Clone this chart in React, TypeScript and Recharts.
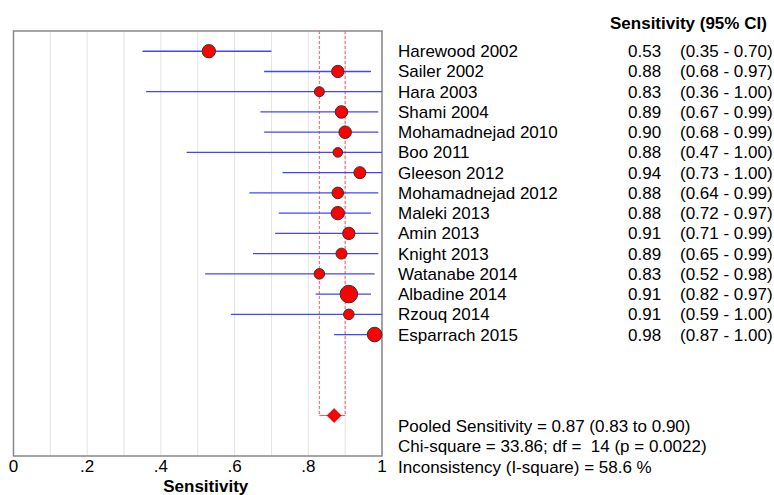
import { ComposedChart, Scatter, XAxis, YAxis, CartesianGrid, ReferenceLine, ReferenceArea } from "recharts";

const studies = [
  "Harewood 2002", "Sailer 2002", "Hara 2003", "Shami 2004", "Mohamadnejad 2010",
  "Boo 2011", "Gleeson 2012", "Mohamadnejad 2012", "Maleki 2013", "Amin 2013",
  "Knight 2013", "Watanabe 2014", "Albadine 2014", "Rzouq 2014", "Esparrach 2015",
];
const sensitivity = [0.53, 0.88, 0.83, 0.89, 0.9, 0.88, 0.94, 0.88, 0.88, 0.91, 0.89, 0.83, 0.91, 0.91, 0.98];
const ciLow = [0.35, 0.68, 0.36, 0.67, 0.68, 0.47, 0.73, 0.64, 0.72, 0.71, 0.65, 0.52, 0.82, 0.59, 0.87];
const ciHigh = [0.7, 0.97, 1.0, 0.99, 0.99, 1.0, 1.0, 0.99, 0.97, 0.99, 0.99, 0.98, 0.97, 1.0, 1.0];
// relative study weights (%), used for marker area
const weights = [7.7, 6.6, 4.3, 6.8, 6.8, 4.0, 6.2, 5.8, 7.7, 6.6, 5.2, 4.8, 13.3, 4.8, 9.2];

const pooled = 0.87;
const pooledLow = 0.83;
const pooledHigh = 0.9;
const pooledRow = 18;

const xTicks = [0, 0.1, 0.2, 0.3, 0.4, 0.5, 0.6, 0.7, 0.8, 0.9, 1];
const xTickLabels = ["0", "", ".2", "", ".4", "", ".6", "", ".8", "", "1"];

const stats = [
  "Pooled Sensitivity = 0.87 (0.83 to 0.90)",
  "Chi-square = 33.86; df =  14 (p = 0.0022)",
  "Inconsistency (I-square) = 58.6 %",
];

const rows = studies.map((name, i) => ({
  name,
  x: sensitivity[i],
  y: i,
  lo: ciLow[i],
  hi: ciHigh[i],
  w: weights[i],
}));
const pooledData = [{ x: pooled, y: pooledRow }];

const font = "'Liberation Sans', Arial, sans-serif";
const fmt = (v: number) => v.toFixed(2);

function StudyDot(props: any) {
  const { cx, cy, payload } = props;
  const r = Math.sqrt(payload.w * 5.8);
  return <circle cx={cx} cy={cy} r={r} fill="#ff0000" stroke="#333" strokeWidth={1} />;
}

function Diamond(props: any) {
  const { cx, cy } = props;
  return (
    <polygon
      points={`${cx - 7},${cy} ${cx},${cy - 7} ${cx + 7},${cy} ${cx},${cy + 7}`}
      fill="#ff0000"
      stroke="#aa0000"
      strokeWidth={0.6}
    />
  );
}

function StudyTick(props: any) {
  const { y, payload } = props;
  const i = payload.value;
  if (i < 0 || i >= studies.length) return null;
  return (
    <g fontFamily={font} fontSize={17} fill="#000">
      <text x={398} y={y} dy={6} textAnchor="start">{studies[i]}</text>
      <text x={628} y={y} dy={6} textAnchor="start">{fmt(sensitivity[i])}</text>
      <text x={680} y={y} dy={6} textAnchor="start">{`(${fmt(ciLow[i])} - ${fmt(ciHigh[i])})`}</text>
    </g>
  );
}

export default function App() {
  return (
    <div style={{ position: "absolute", left: 0, top: 0, width: 774, height: 495, background: "#fff" }}>
      <ComposedChart
        width={774}
        height={495}
        margin={{ top: 31, right: 0, bottom: 0, left: 13.5 }}
      >
        <CartesianGrid horizontal={false} stroke="#e4e4e4" />
        <XAxis
          type="number"
          dataKey="x"
          domain={[0, 1]}
          ticks={xTicks}
          tickFormatter={(_v: number, i: number) => xTickLabels[i]}
          height={39}
          axisLine={false}
          tickLine={false}
          tickSize={0}
          tick={{ fontFamily: font, fontSize: 17, fill: "#000" }}
          tickMargin={4}
          label={{
            value: "Sensitivity",
            position: "insideBottom",
            offset: 3,
            dx: 8,
            style: { fontFamily: font, fontSize: 17, fontWeight: 700, fill: "#000" },
          }}
        />
        <YAxis
          type="number"
          dataKey="y"
          orientation="right"
          domain={[-1, 20]}
          reversed
          width={392}
          ticks={rows.map((r) => r.y)}
          axisLine={false}
          tickLine={false}
          tick={<StudyTick />}
          interval={0}
        />
        <ReferenceArea x1={0} x2={1} y1={-1} y2={20} fill="none" stroke="#888" strokeWidth={1.5} />
        <ReferenceLine
          segment={[{ x: pooledLow, y: -1 }, { x: pooledLow, y: pooledRow }]}
          stroke="#ff5a5a"
          strokeDasharray="3 2"
        />
        <ReferenceLine
          segment={[{ x: pooledHigh, y: -1 }, { x: pooledHigh, y: pooledRow }]}
          stroke="#ff5a5a"
          strokeDasharray="3 2"
        />
        <ReferenceLine
          segment={[{ x: pooledLow, y: pooledRow }, { x: pooledHigh, y: pooledRow }]}
          stroke="#ff5a5a"
        />
        <Scatter name="studies" data={rows} dataKey="y" shape={<StudyDot />} isAnimationActive={false} />
        {rows.map((r) => (
          <ReferenceLine
            key={r.name}
            segment={[{ x: r.lo, y: r.y }, { x: r.hi, y: r.y }]}
            stroke="#4444ff"
            strokeWidth={1.3}
            style={{ stroke: "#4444ff" }}
          />
        ))}
        <Scatter name="pooled" data={pooledData} dataKey="y" shape={<Diamond />} isAnimationActive={false} />
      </ComposedChart>
      <svg
        width={774}
        height={495}
        style={{ position: "absolute", left: 0, top: 0, pointerEvents: "none" }}
        fontFamily={font}
        fontSize={17}
      >
        <text x={610} y={23} dy={6} fontWeight={700}>Sensitivity (95% CI)</text>
        {stats.map((s, i) => (
          <text key={i} x={398} y={425.7 + i * 20.7} dy={6} style={{ whiteSpace: "pre" }}>{s}</text>
        ))}
      </svg>
    </div>
  );
}
